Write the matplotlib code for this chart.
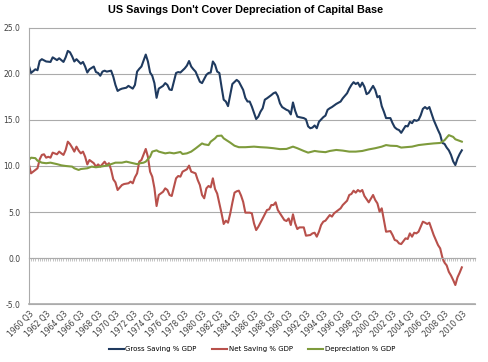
import matplotlib
matplotlib.use("Agg")
import matplotlib.pyplot as plt

# quarters counted from 1960 Q3 (0) -- values in % of GDP
gross_q = [0, 1, 3, 4, 5, 6, 8, 10, 11, 13, 14, 15, 16, 17, 18, 19, 20, 21, 22, 23,
           24, 25, 26, 27, 28, 30, 31, 32, 33, 34, 35, 36, 38, 39, 40, 41, 42, 43, 45, 46,
           48, 49, 50, 51, 52, 54, 55, 56, 57, 58, 59, 60, 62, 63, 64, 65, 66, 68, 69, 70,
           72, 73, 74, 75, 76, 77, 79, 80, 82, 83, 84, 85, 86, 87, 88, 89, 90, 91, 92, 93,
           94, 96, 97, 99, 100, 101, 102, 103, 105, 106, 107, 108, 109, 110, 112, 113, 114, 115, 116, 117,
           119, 120, 121, 122, 123, 124, 125, 127, 128, 129, 130, 131, 132, 133, 134, 136, 137, 138, 139, 140,
           142, 144, 145, 147, 148, 149, 150, 151, 152, 153, 154, 155, 156, 157, 159, 160, 161, 162, 163, 164,
           165, 167, 168, 169, 170, 171, 172, 174, 175, 176, 177, 178, 179, 180, 181, 182, 183, 184, 185, 187,
           188, 189, 190, 191, 192, 193, 194, 195, 196, 197, 198, 199, 200]
gross_pct = [20.9, 20.1, 20.5, 20.4, 21.4, 21.6, 21.35, 21.3, 21.8, 21.5, 21.7, 21.5, 21.3, 21.8, 22.5, 22.35, 21.9, 21.35, 21.6, 21.35,
             21.1, 21.3, 20.8, 20.15, 20.5, 20.8, 20.2, 20.1, 19.8, 20.25, 20.35, 20.25, 20.35, 19.7, 18.8, 18.15, 18.3, 18.4, 18.5, 18.7,
             18.4, 18.8, 20.25, 20.55, 20.8, 22.1, 21.35, 20.15, 19.8, 19.0, 17.4, 18.4, 18.7, 19.0, 18.8, 18.3, 18.25, 20.1, 20.2, 20.15,
             20.6, 20.9, 21.4, 20.8, 20.5, 20.25, 19.15, 19.0, 19.9, 20.1, 20.15, 21.35, 21.0, 20.25, 20.1, 18.6, 17.2, 17.0, 16.5, 17.7,
             18.9, 19.35, 19.16, 18.26, 17.4, 17.0, 17.0, 16.45, 15.1, 15.36, 15.9, 16.27, 17.2, 17.35, 17.7, 17.9, 18.0, 17.6, 16.8, 16.4,
             16.1, 16.0, 15.6, 16.9, 16.0, 15.36, 15.3, 15.2, 15.07, 14.3, 14.1, 14.17, 14.4, 14.1, 14.8, 15.3, 15.47, 16.1, 16.27, 16.4,
             16.74, 17.0, 17.35, 17.9, 18.4, 18.8, 19.1, 18.9, 19.05, 18.6, 19.05, 18.6, 17.8, 17.95, 18.7, 18.26, 17.46, 17.6, 16.5, 15.9,
             15.2, 15.2, 14.65, 14.2, 14.0, 13.9, 13.6, 14.35, 14.3, 14.8, 14.65, 15.0, 14.9, 15.0, 15.5, 16.2, 16.4, 16.2, 16.4, 15.0,
             14.45, 13.9, 13.4, 12.5, 12.4, 12.0, 11.7, 11.2, 10.5, 10.1, 10.8, 11.3, 11.7]

net_q = [0, 1, 3, 4, 5, 6, 7, 8, 9, 10, 11, 13, 14, 15, 16, 17, 18, 19, 20, 21,
         22, 23, 24, 25, 26, 27, 28, 30, 31, 32, 33, 35, 36, 37, 38, 39, 40, 41, 43, 44,
         46, 47, 48, 49, 50, 51, 52, 54, 55, 56, 57, 58, 59, 60, 62, 63, 64, 65, 66, 68,
         69, 70, 71, 73, 74, 75, 77, 78, 79, 80, 81, 82, 83, 84, 85, 86, 87, 88, 89, 90,
         91, 92, 93, 94, 95, 96, 97, 98, 99, 100, 102, 103, 104, 105, 106, 107, 108, 110, 111, 112,
         113, 114, 115, 117, 118, 119, 120, 121, 122, 123, 124, 125, 127, 128, 130, 131, 132, 133, 134, 135,
         136, 137, 139, 140, 141, 142, 144, 145, 147, 148, 149, 150, 151, 152, 153, 154, 155, 156, 157, 159,
         160, 161, 162, 163, 164, 165, 167, 168, 169, 170, 171, 172, 174, 175, 176, 177, 178, 179, 180, 181,
         182, 183, 184, 185, 187, 188, 189, 190, 191, 192, 193, 194, 195, 196, 197, 198, 199, 200]
net_pct = [10.2, 9.2, 9.57, 9.75, 10.72, 11.2, 11.27, 10.9, 11.0, 10.9, 11.45, 11.27, 11.56, 11.37, 11.2, 11.74, 12.64, 12.38, 12.0, 11.56,
           12.1, 11.67, 11.37, 11.56, 11.0, 10.17, 10.65, 10.3, 9.93, 10.17, 9.93, 10.47, 10.1, 10.3, 9.57, 8.55, 8.22, 7.39, 7.93, 8.04,
           8.12, 8.3, 8.12, 8.77, 9.2, 10.47, 10.65, 11.85, 11.0, 9.38, 8.84, 7.6, 5.65, 6.85, 7.2, 7.57, 7.39, 6.85, 6.74, 8.66,
           8.91, 8.84, 9.38, 9.64, 10.04, 9.38, 9.2, 8.48, 7.93, 6.85, 6.49, 7.57, 7.83, 7.68, 8.66, 7.5, 7.0, 5.94, 4.86, 3.7,
           4.06, 3.84, 4.8, 6.0, 7.1, 7.25, 7.32, 6.8, 6.1, 4.93, 4.93, 4.86, 3.77, 3.04, 3.4, 3.84, 4.3, 5.22, 5.29, 5.76,
           5.76, 6.05, 5.22, 4.5, 4.13, 4.02, 4.3, 3.59, 4.75, 3.77, 3.15, 3.33, 3.33, 2.43, 2.5, 2.68, 2.75, 2.32, 2.86, 3.59,
           3.95, 4.06, 4.67, 4.5, 4.86, 5.04, 5.4, 5.76, 6.23, 6.85, 6.96, 7.32, 7.1, 7.39, 7.21, 7.39, 6.74, 6.4, 6.05, 6.85,
           6.3, 5.94, 5.04, 5.4, 4.13, 2.86, 2.93, 2.5, 1.96, 1.88, 1.59, 1.52, 2.14, 2.07, 2.68, 2.32, 2.75, 2.68, 2.86, 3.4,
           3.95, 3.84, 3.7, 3.84, 2.5, 1.96, 1.41, 1.05, 0.07, -0.5, -0.8, -1.5, -1.9, -2.39, -2.93, -2.1, -1.59, -1.01]

dep_q = [0, 1, 3, 4, 6, 8, 10, 13, 15, 17, 20, 21, 23, 24, 27, 29, 31, 33, 36, 38,
         40, 43, 45, 47, 50, 51, 53, 54, 56, 57, 59, 60, 63, 65, 67, 70, 71, 73, 75, 77,
         80, 81, 83, 84, 86, 87, 89, 90, 93, 95, 97, 100, 104, 107, 110, 113, 116, 119, 122, 124,
         127, 129, 132, 134, 137, 139, 142, 145, 148, 151, 154, 157, 160, 163, 165, 167, 170, 172, 174, 177,
         180, 184, 187, 190, 192, 194, 196, 197, 200]
dep_pct = [10.65, 10.9, 10.85, 10.57, 10.36, 10.3, 10.36, 10.2, 10.07, 10.0, 9.93, 9.75, 9.57, 9.67, 9.75, 9.93, 9.86, 9.93, 10.04, 10.2,
           10.36, 10.36, 10.47, 10.36, 10.2, 10.28, 10.36, 10.47, 11.0, 11.56, 11.7, 11.56, 11.37, 11.45, 11.37, 11.52, 11.3, 11.37, 11.56, 11.9,
           12.45, 12.35, 12.27, 12.64, 13.0, 13.26, 13.3, 13.0, 12.54, 12.2, 12.04, 12.04, 12.1, 12.04, 12.0, 11.93, 11.83, 11.85, 12.1, 11.93,
           11.63, 11.45, 11.63, 11.56, 11.5, 11.63, 11.74, 11.67, 11.56, 11.56, 11.63, 11.8, 11.93, 12.1, 12.27, 12.2, 12.17, 12.0, 12.04, 12.1,
           12.27, 12.38, 12.45, 12.5, 12.8, 13.35, 13.16, 12.9, 12.64]

tick_q = list(range(0, 201, 8))
tick_labels = ["%d Q3" % y for y in range(1960, 2011, 2)]
n_quarters = 206

fig = plt.figure(figsize=(4.89, 3.62), dpi=100)
ax = fig.add_axes([0.059, 0.160, 0.912, 0.763])

ax.plot(gross_q, gross_pct, color="#1F3A5F", lw=1.5, label="Gross Saving % GDP")
ax.plot(net_q, net_pct, color="#B8504B", lw=1.5, label="Net Saving % GDP")
ax.plot(dep_q, dep_pct, color="#7E9B3C", lw=1.5, label="Depreciation % GDP")

ax.set_xlim(0, n_quarters)
ax.set_ylim(-5, 25)
ax.set_yticks(range(-5, 26, 5))
ax.set_yticklabels(["%.1f" % v for v in range(-5, 26, 5)], fontsize=5.5, color="#404040")
ax.tick_params(axis="y", length=0, pad=6)
ax.grid(axis="y", color="#ababab", lw=0.8, clip_on=False)
ax.set_axisbelow(True)

# category axis crosses at zero with a tick on every quarter
ax.spines["bottom"].set_position(("data", 0))
ax.spines["bottom"].set_color("#ababab")
ax.set_xticks(range(0, n_quarters + 1))
ax.set_xticklabels([])
ax.tick_params(axis="x", length=2, width=0.5, color="#ababab", direction="out")
for s in ["top", "right"]:
    ax.spines[s].set_visible(False)
ax.spines["left"].set_color("#ababab")

sec = ax.secondary_xaxis(0)
sec.set_xticks(tick_q)
sec.set_xticklabels(tick_labels, rotation=45, ha="right", va="top",
                    rotation_mode="anchor", fontsize=5.5, color="#404040")
sec.tick_params(length=0, pad=4)
sec.spines["bottom"].set_color("#ababab")
sec.spines["bottom"].set_linewidth(1.2)

fig.suptitle("US Savings Don't Cover Depreciation of Capital Base",
             x=0.502, y=0.985, fontsize=7.8, fontweight="bold",
             family=["Liberation Sans Narrow", "Liberation Sans"])

fig.legend(loc="center", bbox_to_anchor=(0.515, 0.035), ncol=3, frameon=False,
           fontsize=5.0, handlelength=2.2, handletextpad=0.2, columnspacing=2.2)

fig.savefig("out.png", dpi=100)
